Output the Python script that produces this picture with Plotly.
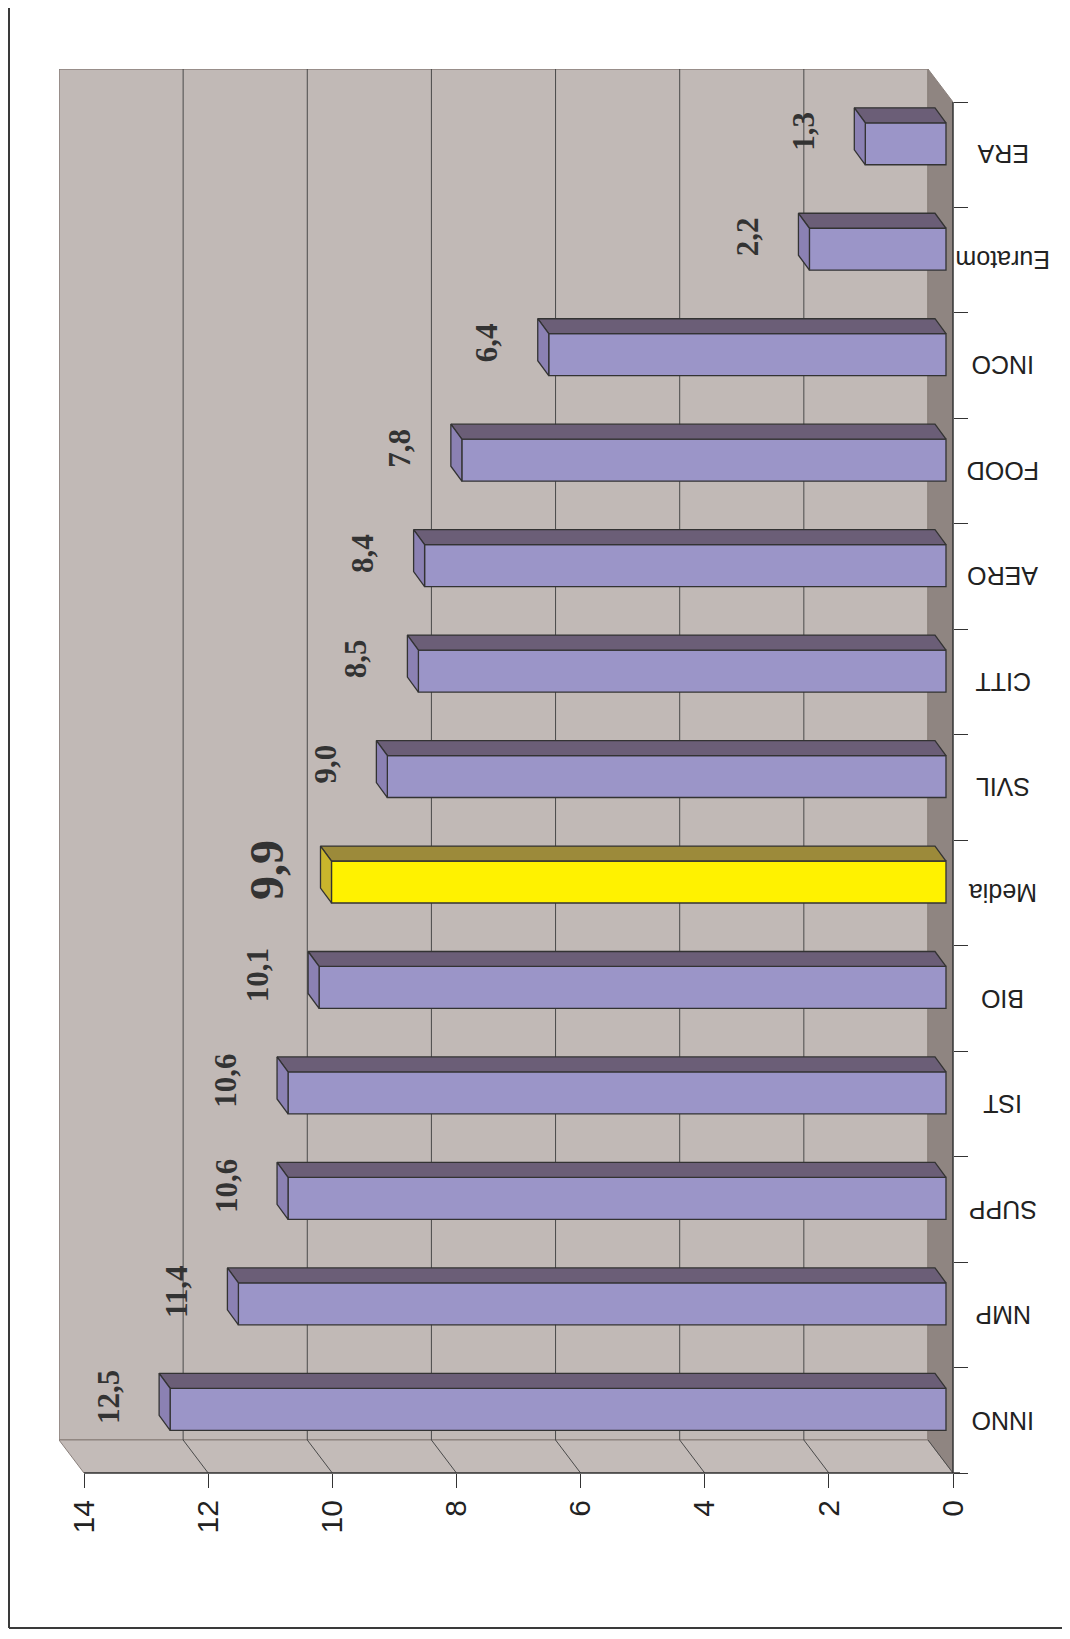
import plotly.graph_objects as go

# ---------------- data ----------------
categories = ["INNO", "NMP", "SUPP", "IST", "BIO", "Media", "SVIL", "CITT",
              "AERO", "FOOD", "INCO", "Euratom", "ERA"]
values = [12.5, 11.4, 10.6, 10.6, 10.1, 9.9, 9.0, 8.5, 8.4, 7.8, 6.4, 2.2, 1.3]
highlight = "Media"
value_ticks = [0, 2, 4, 6, 8, 10, 12, 14]
value_tick_labels = ["0", "2", "4", "6", "8", "10", "12", "14"]

# ---------------- geometry (3D look) ----------------
VMAX = 14
WALL_DX, WALL_DY = 0.403, 0.313      # back wall offset (value units, category units)
BAR_SX, BAR_SY = 0.113, 0.104        # bar front-face offset from front plane
BAR_DX, BAR_DY = 0.177, 0.142        # bar depth
BAR_W = 0.398                        # bar front face thickness
n = len(categories)
idx = list(range(n))
XMAX = VMAX + WALL_DX
YMIN, YMAX = -0.5, n - 0.5 + WALL_DY

W, H = 1070, 1639
OFF = 8  # page body margin
PW, PH = 894, 1404.5
ML, MT = 59 - OFF, 68.5 - OFF
MR = W - ML - PW
MB = H - MT - PH

def px_to_paper_x(px):   # px in page coordinates
    return (px - OFF - ML) / PW

def px_to_paper_y(py):
    return (MT + PH - (py - OFF)) / PH

# colours
WALL = "#c1b9b6"
FLOOR = "#8f8581"
SIDE = "#c3bbb8"
EDGE = "#8a807c"
GRID = "#4a4a4a"
FRONT = "#9b95c8"
TOP = "#6b5e77"
END = "#8b81b3"
Y_FRONT = "#fff200"
Y_TOP = "#9c8a3a"
Y_END = "#c9b52c"
OUT = "#333333"

fig = go.Figure()

shapes = []
# back wall
shapes.append(dict(type="rect", xref="x", yref="y", x0=WALL_DX, x1=XMAX,
                   y0=-0.5 + WALL_DY, y1=YMAX, fillcolor=WALL,
                   line=dict(color=EDGE, width=1.5), layer="below"))
# right floor strip
shapes.append(dict(type="path", xref="x", yref="y",
                   path=f"M 0,{-0.5} L 0,{n-0.5} L {WALL_DX},{YMAX} L {WALL_DX},{-0.5+WALL_DY} Z",
                   fillcolor=FLOOR, line=dict(color=EDGE, width=1), layer="below"))
# bottom side wall
shapes.append(dict(type="path", xref="x", yref="y",
                   path=f"M 0,{-0.5} L {VMAX},{-0.5} L {XMAX},{-0.5+WALL_DY} L {WALL_DX},{-0.5+WALL_DY} Z",
                   fillcolor=SIDE, line=dict(color=EDGE, width=1), layer="below"))
# gridlines
for v in value_ticks:
    if 0 < v < VMAX:
        shapes.append(dict(type="line", xref="x", yref="y", x0=v + WALL_DX, x1=v + WALL_DX,
                           y0=-0.5 + WALL_DY, y1=YMAX, line=dict(color=GRID, width=1), layer="below"))
    if v < VMAX:
        shapes.append(dict(type="line", xref="x", yref="y", x0=v, x1=v + WALL_DX,
                           y0=-0.5, y1=-0.5 + WALL_DY, line=dict(color=GRID, width=1), layer="below"))

# axis lines (front)
shapes.append(dict(type="line", xref="paper", yref="paper",
                   x0=(XMAX - VMAX) / XMAX, x1=px_to_paper_x(960), y0=0, y1=0,
                   line=dict(color=OUT, width=1.5)))
shapes.append(dict(type="line", xref="paper", yref="paper",
                   x0=1, x1=1, y0=0, y1=(n) / (YMAX + 0.5),
                   line=dict(color=OUT, width=1.5)))
# outer frame
shapes.append(dict(type="line", xref="paper", yref="paper",
                   x0=px_to_paper_x(9), x1=px_to_paper_x(9), y0=px_to_paper_y(0), y1=px_to_paper_y(1628),
                   line=dict(color="#3a3a3a", width=2)))
shapes.append(dict(type="line", xref="paper", yref="paper",
                   x0=px_to_paper_x(9), x1=px_to_paper_x(1080), y0=px_to_paper_y(1628), y1=px_to_paper_y(1628),
                   line=dict(color="#3a3a3a", width=2)))

# ---------------- bars ----------------
def faces(sel):
    tx, ty, ex, ey = [], [], [], []
    for i, v in zip(idx, values):
        if not sel(categories[i]):
            continue
        yc = i + BAR_SY
        yt = yc + BAR_W / 2
        yb = yc - BAR_W / 2
        x0 = BAR_SX
        x1 = BAR_SX + v
        tx += [x0, x1, x1 + BAR_DX, x0 + BAR_DX, x0, None]
        ty += [yt, yt, yt + BAR_DY, yt + BAR_DY, yt, None]
        ex += [x1, x1, x1 + BAR_DX, x1 + BAR_DX, x1, None]
        ey += [yb, yt, yt + BAR_DY, yb + BAR_DY, yb, None]
    return tx, ty, ex, ey

for sel, cf, ct, ce in [(lambda c: c != highlight, FRONT, TOP, END),
                        (lambda c: c == highlight, Y_FRONT, Y_TOP, Y_END)]:
    xs = [v for c, v in zip(categories, values) if sel(c)]
    ys = [i + BAR_SY for i, c in zip(idx, categories) if sel(c)]
    fig.add_trace(go.Bar(orientation="h", x=xs, y=ys, base=[BAR_SX] * len(xs),
                         width=BAR_W, marker=dict(color=cf, line=dict(color=OUT, width=1.3)),
                         hoverinfo="skip", showlegend=False))
    tx, ty, ex, ey = faces(sel)
    fig.add_trace(go.Scatter(x=tx, y=ty, mode="lines", fill="toself", fillcolor=ct,
                             line=dict(color=OUT, width=1.3), hoverinfo="skip", showlegend=False))
    fig.add_trace(go.Scatter(x=ex, y=ey, mode="lines", fill="toself", fillcolor=ce,
                             line=dict(color=OUT, width=1.3), hoverinfo="skip", showlegend=False))

# ---------------- annotations ----------------
annotations = []
for i, (c, v) in enumerate(zip(categories, values)):
    big = c == highlight
    annotations.append(dict(
        x=BAR_SX + v + (1.05 if big else 1.0), y=i + 0.22, xref="x", yref="y",
        text="<b>" + f"{v:.1f}".replace(".", ",") + "</b>",
        textangle=-90, showarrow=False,
        font=dict(family="Liberation Serif, Times New Roman, serif", size=48 if big else 31,
                  color="#333333")))
    annotations.append(dict(
        x=px_to_paper_x(1003), y=i, xref="paper", yref="y", text=c, textangle=180,
        showarrow=False, xanchor="center", yanchor="middle",
        font=dict(family="Liberation Sans, Arial, sans-serif", size=25, color="#222222")))

fig.update_layout(
    width=W, height=H,
    margin=dict(l=ML, r=MR, t=MT, b=MB, autoexpand=False),
    paper_bgcolor="white", plot_bgcolor="rgba(0,0,0,0)",
    shapes=shapes, annotations=annotations, barmode="overlay",
    xaxis=dict(range=[XMAX, 0], tickvals=value_ticks, ticktext=value_tick_labels,
               ticks="outside", ticklen=14, tickwidth=1.3, tickcolor=OUT, tickangle=-90,
               tickfont=dict(family="Liberation Sans, Arial, sans-serif", size=30, color="#222222"),
               showgrid=False, zeroline=False, showline=False, fixedrange=True),
    yaxis=dict(range=[YMIN, YMAX], side="right",
               tickvals=[i - 0.5 for i in range(n + 1)], ticks="outside", ticklen=14,
               tickwidth=1.3, tickcolor=OUT, showticklabels=False,
               showgrid=False, zeroline=False, showline=False, fixedrange=True),
)

fig.write_html("out.html")
